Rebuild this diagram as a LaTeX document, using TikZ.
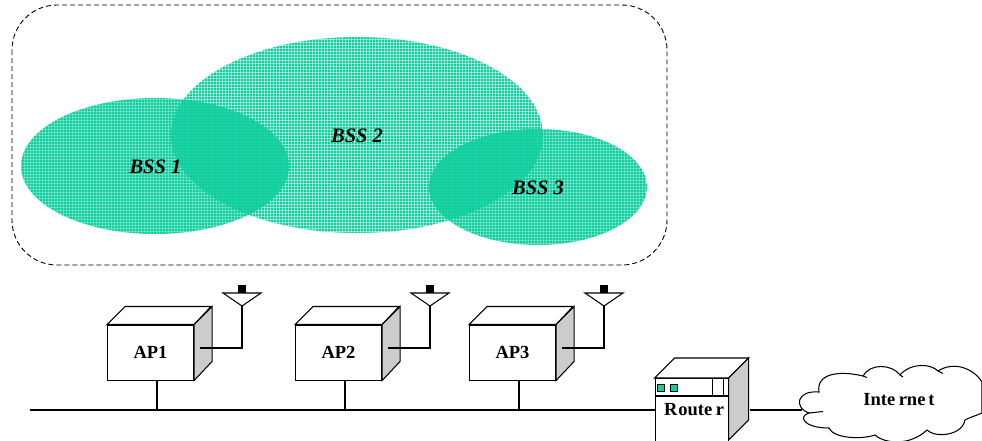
\documentclass[tikz,border=0pt]{standalone}
\usepackage{fontspec}
\setmainfont{Liberation Serif}
\definecolor{bssgreen}{HTML}{0FCF9E}
\definecolor{sidegray}{HTML}{CCCCCC}
\tikzset{
  line/.style={draw=black,line width=1.05pt,line join=miter},
  frontbox/.style={line,fill=white,rectangle,inner sep=0pt,minimum width=86pt,minimum height=55pt,font=\fontsize{18.5}{20}\selectfont\bfseries},
  sideface/.style={line,fill=sidegray},
  topface/.style={line,fill=white},
  ledbox/.style={line,fill=bssgreen,minimum width=7pt,minimum height=7pt,inner sep=0pt,line width=.9pt},
  bsslabel/.style={font=\fontsize{20.5}{22}\selectfont\bfseries\itshape,inner sep=0pt},
}
\newcommand{\bssA}{(155,166) ellipse [x radius=134,y radius=68]}
\newcommand{\bssB}{(357,135) ellipse [x radius=186,y radius=98]}
\newcommand{\bssC}{(538,187) ellipse [x radius=109,y radius=58]}
\newcommand{\meshlines}[2]{% line width, opacity
  \foreach \gx in {0,3,...,669} {\draw[white,line width=#1,draw opacity=#2] (\gx+0.5,0) -- (\gx+0.5,270);}
  \foreach \gy in {0,3,...,270} {\draw[white,line width=#1,draw opacity=#2] (0,\gy+0.5) -- (670,\gy+0.5);}
}
\newcommand{\apunit}[3]{% name, x offset, label
  \node[frontbox,anchor=north west] (#1) at (107+#2,324.5) {#3};
  \path[topface] (#1.north west) -- ++(18,-18) -- ++(86,0) -- (#1.north east) -- cycle;
  \path[sideface] (#1.north east) -- ++(18,-18) -- ++(0,55) -- (#1.south east) -- cycle;
  \coordinate (#1port) at (200+#2,348);
  \coordinate (#1tip) at (242+#2,306);
  \coordinate (#1bus) at (157+#2,410);
  \coordinate (#1foot) at (157+#2,379.5);
  \coordinate (#1elbow) at (242+#2,348);
  \node[fill=black,minimum width=8pt,minimum height=8pt,inner sep=0pt] (#1cap) at (242+#2,289) {};
  \draw[line] (#1port) -- (#1elbow) -- (#1tip);
  \draw[line] (#1tip) -- (223+#2,293) -- (261+#2,293) -- cycle;
  \draw[line] (#1foot) -- (#1bus);
}
\begin{document}
\begin{tikzpicture}[x=1pt,y=-1pt]
\useasboundingbox (0,0) rectangle (982,440);
\clip (0,0) rectangle (982,440);
% coverage areas
\begin{scope}\clip \bssB; \fill[bssgreen] \bssB; \meshlines{1pt}{0.5} \end{scope}
\begin{scope}\clip \bssA; \fill[bssgreen] \bssA; \meshlines{1pt}{0.3} \end{scope}
\begin{scope}\clip \bssC; \fill[bssgreen] \bssC; \meshlines{1pt}{0.3} \end{scope}
\begin{scope}\clip \bssA; \clip \bssB; \fill[bssgreen] \bssB; \meshlines{1pt}{0.06} \end{scope}
\begin{scope}\clip \bssC; \clip \bssB; \fill[bssgreen] \bssB; \meshlines{1pt}{0.06} \end{scope}
\node[bsslabel] (bss1) at (155.5,167) {BSS 1};
\node[bsslabel] (bss2) at (357,136) {BSS 2};
\node[bsslabel] (bss3) at (538,188) {BSS 3};
\draw[black,line width=0.9pt,dash pattern=on 5pt off 3pt,rounded corners=45pt] (12,5) rectangle (667,265);
% bus
\coordinate (busleft) at (30,410);
\node[rectangle,line,fill=white,anchor=north west,inner sep=0pt,minimum width=73pt,minimum height=80pt] (router) at (654.5,378) {};
\draw[line] (busleft) -- (router.west |- busleft);
\apunit{ap1}{0}{AP1}
\apunit{ap2}{188}{AP2}
\apunit{ap3}{362}{AP3}
% router
\path[topface] (router.north west) -- ++(20,-20) -- ++(74,0) -- (router.north east) -- cycle;
\path[sideface] (router.north east) -- ++(20,-20) -- ++(0,62) -- ++(-20,20) -- cycle;
\draw[line] (router.west |- 0,396) -- (router.east |- 0,396);
\draw[line width=0.8pt] (712.5,378) -- (712.5,396) (723,378) -- (723,396);
\node[ledbox] (led1) at (661,388) {};
\node[ledbox] (led2) at (674,388) {};
\node[font=\fontsize{18.5}{20}\selectfont\bfseries,inner sep=0pt] (routerlabel) at (694,409.5) {R\kern1pt oute\kern3.5pt r};
% internet
\path[line,fill=white] (819,392)
  .. controls (816,374) and (838,370) .. (863,376)
  .. controls (870,363) and (892,364) .. (900,375)
  .. controls (910,363) and (930,363) .. (938,371)
  .. controls (955,360) and (975,370) .. (982,382)
  -- (982,413)
  .. controls (975,416) and (968,418) .. (965,420)
  .. controls (962,436) and (935,438) .. (927,430)
  .. controls (910,446) and (885,444) .. (875,435)
  .. controls (860,440) and (833,438) .. (829,428)
  .. controls (803,428) and (798,416) .. (809,413)
  .. controls (794,408) and (796,390) .. (819,392) -- cycle;
\draw[line] (809,413) -- ++(14,-1.5);
\draw[line] (938,371) -- ++(5,2.5) (900,375) -- ++(3,2) (863,376) -- ++(4,1.5);
\node[font=\fontsize{18.5}{20}\selectfont\bfseries,inner sep=0pt] (internet) at (899,400) {Inte\kern3.5pt rne\kern3pt t};
\coordinate (routerout) at (750,410);
\coordinate (cloudwest) at (802,410);
\draw[line] (routerout) -- (cloudwest);
\end{tikzpicture}
\end{document}
